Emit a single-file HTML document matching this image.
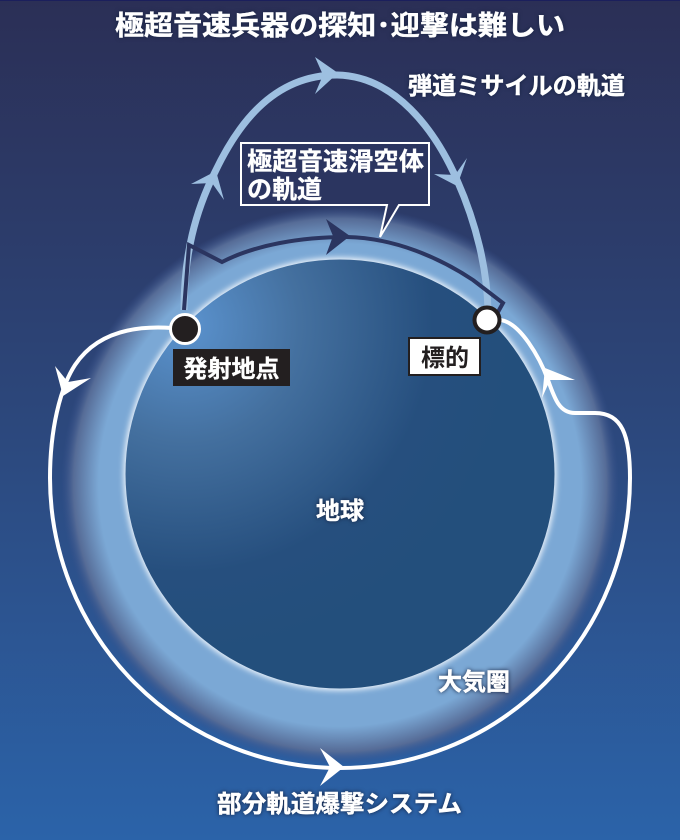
<!DOCTYPE html>
<html lang="ja">
<head>
<meta charset="utf-8">
<style>
html,body{margin:0;padding:0;background:#2b3158;}
svg{display:block;}
text{font-family:"Liberation Sans","Noto Sans CJK JP",sans-serif;font-weight:700;}
.w{fill:#fff;stroke:#fff;stroke-width:.3px;}
.g{fill:#fff;stroke:#fff;stroke-width:.45px;filter:drop-shadow(0 0 2px #14213f);}
</style>
</head>
<body>
<svg width="680" height="840" viewBox="0 0 680 840" xmlns="http://www.w3.org/2000/svg">
<defs>
<linearGradient id="bg" x1="0" y1="0" x2="0" y2="1">
<stop offset="0" stop-color="#2b2f56"/>
<stop offset="0.3" stop-color="#2c3d6c"/>
<stop offset="0.55" stop-color="#2c4a80"/>
<stop offset="1" stop-color="#2b63a9"/>
</linearGradient>
<radialGradient id="atm" gradientUnits="userSpaceOnUse" cx="340" cy="485" r="279">
<stop offset="0.74" stop-color="#7ba8d5"/>
<stop offset="0.865" stop-color="#7ba8d5"/>
<stop offset="0.955" stop-color="#566c97"/>
<stop offset="1" stop-color="#37508a" stop-opacity="0"/>
</radialGradient>
<radialGradient id="earth" gradientUnits="userSpaceOnUse" cx="185" cy="325" r="330">
<stop offset="0" stop-color="#5b93cf"/>
<stop offset="0.35" stop-color="#44709f"/>
<stop offset="0.75" stop-color="#264f7e"/>
<stop offset="1" stop-color="#234f7c"/>
</radialGradient>
<filter id="b" x="-20%" y="-20%" width="140%" height="140%"><feGaussianBlur stdDeviation="3"/></filter>
</defs>

<rect width="680" height="840" fill="url(#bg)"/>
<rect width="680" height="1" fill="#1b1f5c"/>
<circle cx="340" cy="485" r="279" fill="url(#atm)"/>
<circle cx="340" cy="474" r="216.5" fill="#eef4fb" filter="url(#b)"/>
<circle cx="340" cy="474" r="214.5" fill="url(#earth)"/>

<!-- ballistic -->
<path d="M184 310 C184 255 195 212 215 172 C235 130 270 75 337 75 C395 76 435 130 457 180 C477 225 487 270 488 310" fill="none" stroke="#9dbfe0" stroke-width="7"/>
<polygon points="338,73 315,57 323,75 315,94" fill="#9dbfe0"/>
<polygon points="216,171 191,184 212,183 224,200" fill="#9dbfe0"/>
<polygon points="457,186 434,174 455,175 467,158" fill="#9dbfe0"/>

<!-- glide -->
<path d="M184 310 L189 245 L222 262 C255 245 300 237 347 237 C395 238 440 258 473 280 L503 303 L498 312" fill="none" stroke="#2b3560" stroke-width="4" stroke-linejoin="miter"/>
<polygon points="350,236 326,219 333,236 326,255" fill="#2b3560"/>

<!-- FOBS -->
<path d="M172 328 C130 325 95 335 75 365 C60 388 50 430 50 478 A290 290 0 0 0 630 478 C630 435 622 413 595 413 L575 413 C560 413 555 400 548 380 C540 358 520 322 500 320" fill="none" stroke="#fff" stroke-width="4"/>
<polygon points="63,396 55,366 68,382 91,378" fill="#fff"/>
<polygon points="344,767 320,748 330,767 320,786" fill="#fff"/>
<polygon points="545,368 575,380 550,380 542,398" fill="#fff"/>

<!-- points -->
<circle cx="185" cy="329" r="14.5" fill="#231f20" stroke="#fff" stroke-width="3"/>
<circle cx="487" cy="320" r="12.5" fill="#fff" stroke="#231f20" stroke-width="4"/>

<!-- callout -->
<path d="M241 143 H429 V205 H399 L380 237 L387 205 H241 Z" fill="#2b3560" stroke="#fff" stroke-width="2"/>
<text x="247" y="170" font-size="25" class="w" textLength="177" lengthAdjust="spacingAndGlyphs">極超音速滑空体</text>
<text x="247" y="198" font-size="25" class="w">の軌道</text>

<!-- labels -->
<rect x="173" y="349" width="117" height="37" fill="#231f20"/>
<text x="231.5" y="377" font-size="24" class="w" text-anchor="middle">発射地点</text>
<rect x="409" y="338" width="71" height="37" fill="#fff" stroke="#231f20" stroke-width="2"/>
<text x="445" y="366" font-size="24" fill="#231f20" text-anchor="middle">標的</text>

<text x="340" y="35" font-size="27" class="g" text-anchor="middle" textLength="450" lengthAdjust="spacingAndGlyphs">極超音速兵器の探知･迎撃は難しい</text>
<text x="408" y="94" font-size="24" class="g" textLength="217" lengthAdjust="spacingAndGlyphs">弾道ミサイルの軌道</text>
<text x="340" y="519" font-size="24" class="g" text-anchor="middle">地球</text>
<text x="474" y="690" font-size="24" class="g" text-anchor="middle">大気圏</text>
<text x="217" y="812" font-size="24" class="g" textLength="245" lengthAdjust="spacingAndGlyphs">部分軌道爆撃システム</text>
</svg>
</body>
</html>
